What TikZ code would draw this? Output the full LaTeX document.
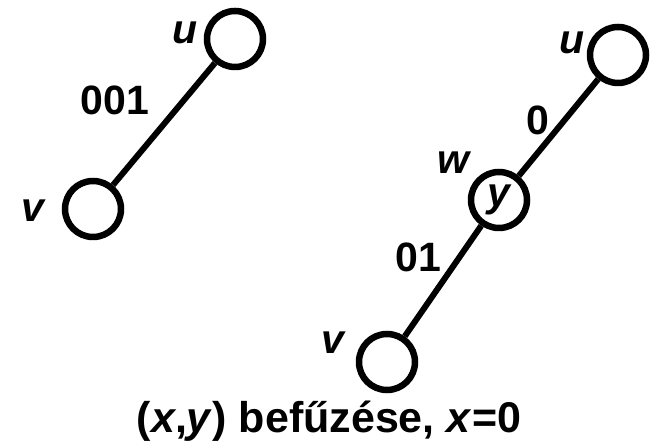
\documentclass[tikz,border=0pt]{standalone}
\usepackage{fontspec}
\setmainfont{Liberation Sans}
\usetikzlibrary{positioning}

\begin{document}
\begin{tikzpicture}[
  x=1pt, y=1pt,
  vertex/.style={draw, circle, line width=6.5pt, minimum size=56pt, inner sep=0pt,
    font=\fontsize{41}{46}\selectfont\bfseries\itshape},
  lbl/.style={inner sep=0pt, font=\fontsize{41}{46}\selectfont\bfseries},
  vlbl/.style={inner sep=0pt, font=\fontsize{41}{46}\selectfont\bfseries\itshape},
  edge/.style={line width=6pt}
]
\useasboundingbox (0,0) rectangle (655,446);
% before
\node[vertex] (u1) at (235,407) {};
\node[vertex] (v1) at (93,237) {};
\node[vlbl] (u1name) at (185,413) {u};
\node[vlbl] (v1name) at (33,235) {v};
\draw[edge] (u1) -- (v1);
\node[lbl] (e1) at (115,346) {001};
% after
\node[vertex] (u2) at (618,391) {};
\node[vertex] (w2) at (499,246) {y};
\node[vertex] (v2) at (387,84) {};
\node[vlbl] (u2name) at (572,403) {u};
\node[vlbl] (w2name) at (453,283) {w};
\node[vlbl] (v2name) at (333,103) {v};
\draw[edge] (u2) -- (w2);
\draw[edge] (w2) -- (v2);
\node[lbl] (e2) at (538,326) {0};
\node[lbl] (e3) at (418,189) {01};
% caption
\node[lbl, anchor=base, font=\fontsize{43}{48}\selectfont\bfseries] (cap) at (329,13)
  {(\textit{x},\textit{y}) befűzése, \textit{x}=0};
\end{tikzpicture}
\end{document}
